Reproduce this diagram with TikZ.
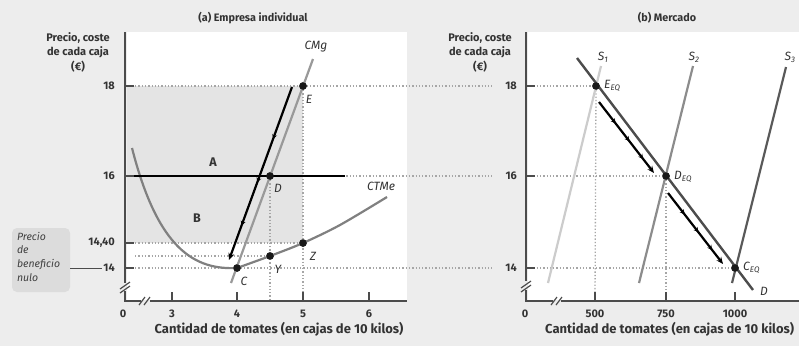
\documentclass[tikz,border=0pt]{standalone}
\usepackage{fontspec}
\setmainfont{Fira Sans}
\usetikzlibrary{arrows.meta,decorations.markings}
\definecolor{paper}{HTML}{EDEDED}
\definecolor{areagray}{HTML}{E4E4E4}
\definecolor{boxgray}{HTML}{DCDCDC}
\definecolor{ink}{HTML}{333333}
\begin{document}
\begin{tikzpicture}[x=1pt,y=-1pt,
	every node/.style={font=\bfseries\fontsize{11}{13}\selectfont, text=ink, inner sep=1pt},
	axis/.style={draw=black!70, line width=1.4pt},
	tick/.style={draw=black!70, line width=1.2pt},
	guide/.style={draw=black!35, line width=1.3pt, dotted},
	dot/.style={circle, fill=black!90, inner sep=0pt, minimum size=7.5pt},
	curvelbl/.style={font=\itshape\fontsize{12}{13}\selectfont},
	fall/.style={draw=black, line width=2.2pt, -{Stealth[length=7pt,width=6pt]},
		postaction={decorate},
		decoration={markings,
			mark=at position 0.3 with {\arrow{Stealth[length=4.5pt,width=5pt]}},
			mark=at position 0.55 with {\arrow{Stealth[length=4.5pt,width=5pt]}},
			mark=at position 0.8 with {\arrow{Stealth[length=4.5pt,width=5pt]}}}}]
\useasboundingbox (0,0) rectangle (799,346);
\fill[paper] (0,0) rectangle (799,346);
\fill[white] (127,32) rectangle (407,300);
\fill[white] (528,32) rectangle (799,300);
\fill[areagray] (127,86) rectangle (303,243);
\node[font=\bfseries\fontsize{10.8}{13}\selectfont] (titleA) at (253,18) {(a) Empresa individual};
\node[font=\bfseries\fontsize{10.8}{13}\selectfont] (titleB) at (667,18) {(b) Mercado};
\node[align=center, font=\bfseries\fontsize{11}{14.5}\selectfont] (ylabA) at (78,52) {Precio, coste\\de cada caja\\(€)};
\node[align=center, font=\bfseries\fontsize{11}{14.5}\selectfont] (ylabB) at (480,52) {Precio, coste\\de cada caja\\(€)};
\node[font=\bfseries\fontsize{13}{15}\selectfont] (xlabA) at (279,329) {Cantidad de tomates (en cajas de 10 kilos)};
\node[anchor=west, font=\bfseries\fontsize{13}{15}\selectfont] (xlabB) at (544,329) {Cantidad de tomates (en cajas de 10 kilos)};
% empresa individual
\coordinate (gl18) at (135,86);
\coordinate (gl16) at (135,176);
\coordinate (gl144) at (135,243);
\coordinate (glY) at (135,256);
\coordinate (gl14) at (135,268);
\coordinate (gr18) at (492,86);
\coordinate (gr16) at (492,176);
\coordinate (gr14) at (492,268);
\node[dot] (E) at (303,86) {};
\node[dot] (D) at (270,176) {};
\node[dot] (C) at (237,268) {};
\node[dot] (Y) at (270,256) {};
\node[dot] (Z) at (303,243) {};
\draw[guide] (gl18) -- (gr18);
\draw[guide] (gl16) -- (gr16);
\draw[guide] (gl14) -- (gr14);
\draw[guide] (gl144) -- (Z);
\draw[guide] (glY) -- (Y);
\draw[guide] (E) -- (303,301);
\draw[guide] (D) -- (270,301);
\coordinate (ctmeA) at (132,148);
\coordinate (ctmeB) at (387,197);
\draw[draw=black!50, line width=2.2pt] (ctmeA) .. controls (158,250) and (195,270) .. (C.center);
\draw[draw=black!50, line width=2.2pt] plot[smooth] coordinates {(237,268) (270,256) (303,243) (340,225) (387,197)};
\coordinate (cmgA) at (231,283);
\coordinate (cmgB) at (313,59);
\draw[draw=black!40, line width=2.2pt] (cmgA) -- (cmgB);
\coordinate (fallA) at (292,87);
\coordinate (fallB) at (229,260);
\draw[fall] (fallA) -- (fallB);
\coordinate (p16A) at (125,176);
\coordinate (p16B) at (345,176);
\draw[draw=black, line width=2.6pt] (p16A) -- (p16B);
\node[dot] at (E) {};
\node[dot] at (D) {};
\node[dot] at (C) {};
\node[dot] at (Y) {};
\node[dot] at (Z) {};
\node[curvelbl] (lblCMg) at (316,47) {CMg};
\node[curvelbl] (lblCTMe) at (381,186) {CTMe};
\node[curvelbl] (lblE) at (309,99) {E};
\node[curvelbl] (lblD) at (278,188) {D};
\node[curvelbl] (lblC) at (244,281) {C};
\node[curvelbl] (lblY) at (278,269) {Y};
\node[curvelbl] (lblZ) at (313,256) {Z};
\node[font=\bfseries\fontsize{12.5}{14}\selectfont] (areaA) at (213,162) {A};
\node[font=\bfseries\fontsize{12.5}{14}\selectfont] (areaB) at (197,218) {B};
\node[anchor=east] (yt18) at (116,86) {18};
\node[anchor=east] (yt16) at (116,176) {16};
\node[anchor=east] (yt144) at (116,243) {14,40};
\node[anchor=east] (yt14) at (116,268) {14};
\node[fill=boxgray, rounded corners=5pt, minimum width=58pt, minimum height=64pt] (nullbox) at (41,260) {};
\node[anchor=north west, align=left, font=\itshape\fontsize{10.5}{13.8}\selectfont, text=black!75] (nulltxt) at ([xshift=4pt,yshift=-3pt]nullbox.north west) {Precio\\de\\beneficio\\nulo};
\draw[draw=black!70, line width=1pt] (nullbox.east |- yt14) -- (yt14.west);
\draw[axis] (125,32) -- (125,283);
\draw[axis] (125,291) -- (125,301) -- (141,301);
\draw[axis] (150,301) -- (407,301);
\draw[tick] (120,289) -- (130,282);
\draw[tick] (120,293) -- (130,286);
\draw[tick] (139,305) -- (145,297);
\draw[tick] (144,305) -- (150,297);
\foreach \yy in {86,176,243,268} \draw[tick] (125,\yy) -- (134,\yy);
\foreach \xx/\tx in {172/3,237/4,303/5,369/6} {
	\draw[tick] (\xx,301) -- (\xx,292);
	\node (xtA\tx) at (\xx,314) {\tx};
}
\node (xtA0) at (123,314) {0};
% mercado
\coordinate (ml18) at (530,86);
\coordinate (ml16) at (530,176);
\coordinate (ml14) at (530,268);
\node[dot] (EEQ) at (596,86) {};
\node[dot] (DEQ) at (666,176) {};
\node[dot] (CEQ) at (735,268) {};
\draw[guide] (ml18) -- (EEQ);
\draw[guide] (ml16) -- (DEQ);
\draw[guide] (ml14) -- (CEQ);
\draw[guide] (EEQ) -- (595,301);
\draw[guide] (DEQ) -- (666,301);
\coordinate (s1A) at (548,283);
\coordinate (s1B) at (601,66);
\coordinate (s2A) at (639,283);
\coordinate (s2B) at (693,66);
\coordinate (s3A) at (732,283);
\coordinate (s3B) at (786,67);
\coordinate (dA) at (577,58);
\coordinate (dB) at (753,290);
\draw[draw=black!20, line width=2.2pt] (s1A) -- (s1B);
\draw[draw=black!45, line width=2.2pt] (s2A) -- (s2B);
\draw[draw=black!65, line width=2.2pt] (s3A) -- (s3B);
\draw[draw=black!70, line width=2.4pt] (dA) -- (dB);
\coordinate (mfallA) at (599,102);
\coordinate (mfallB) at (654,173);
\coordinate (mfallC) at (668,193);
\coordinate (mfallD) at (723,264);
\draw[fall] (mfallA) -- (mfallB);
\draw[fall] (mfallC) -- (mfallD);
\node[dot] at (EEQ) {};
\node[dot] at (DEQ) {};
\node[dot] at (CEQ) {};
\node[curvelbl] (lblS1) at (603,57) {S\textsubscript{1}};
\node[curvelbl] (lblS2) at (694,57) {S\textsubscript{2}};
\node[curvelbl] (lblS3) at (790,57) {S\textsubscript{3}};
\node[curvelbl, anchor=west] (lblEEQ) at (603,86) {E\textsubscript{EQ}};
\node[curvelbl, anchor=west] (lblDEQ) at (673,177) {D\textsubscript{EQ}};
\node[curvelbl, anchor=west] (lblCEQ) at (742,268) {C\textsubscript{EQ}};
\node[curvelbl] (lblDd) at (764,291) {D};
\node[anchor=east] (mt18) at (518,86) {18};
\node[anchor=east] (mt16) at (518,176) {16};
\node[anchor=east] (mt14) at (518,268) {14};
\draw[axis] (526,32) -- (526,281);
\draw[axis] (526,290) -- (526,301) -- (553,301);
\draw[axis] (561,301) -- (799,301);
\draw[tick] (521,288) -- (531,281);
\draw[tick] (521,292) -- (531,285);
\draw[tick] (551,305) -- (557,297);
\draw[tick] (556,305) -- (562,297);
\foreach \yy in {86,176,268} \draw[tick] (526,\yy) -- (535,\yy);
\foreach \xx/\tx in {595/500,666/750,735/1000} {
	\draw[tick] (\xx,301) -- (\xx,292);
	\node (xtB\tx) at (\xx,314) {\tx};
}
\node (xtB0) at (525,314) {0};
\end{tikzpicture}
\end{document}
